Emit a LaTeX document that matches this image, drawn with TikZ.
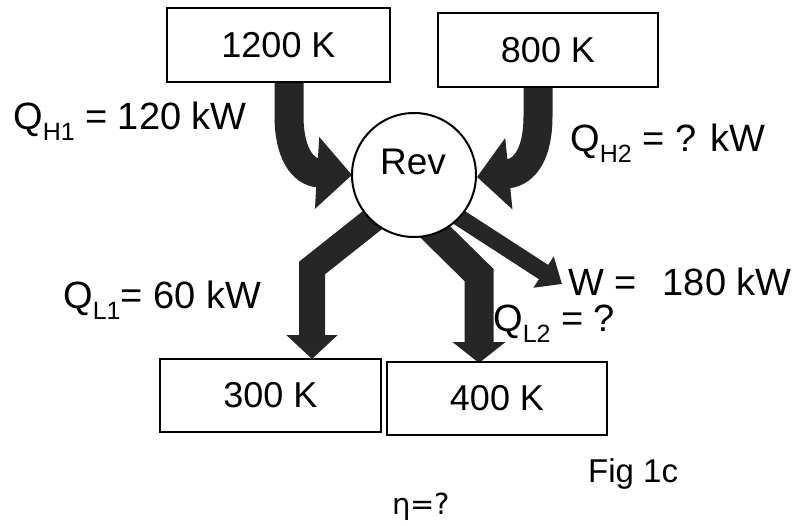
\documentclass[tikz,border=0pt]{standalone}
\usepackage{fontspec}
\setmainfont{Liberation Sans}
\newfontfamily\djv{DejaVu Sans}
\usetikzlibrary{arrows.meta}
\newcommand\qsub[1]{\raisebox{-11pt}{\fontsize{25pt}{25pt}\selectfont #1}}
\tikzset{
  tbox/.style={draw=black, line width=1.5pt, fill=white, inner sep=0pt,
    minimum width=#1, minimum height=74pt, font=\fontsize{36pt}{40pt}\selectfont},
  heat/.style={draw=black!85, line width=#1, line join=miter},
  lbl/.style={inner sep=0pt, anchor=base west, font=\fontsize{38pt}{42pt}\selectfont},
}
\begin{document}
\begin{tikzpicture}[x=1pt,y=-1pt]
\useasboundingbox (0,0) rectangle (799,526);
% arrows
\draw[heat=29pt, -{Triangle[width=70pt,length=35pt]}] (289,70) -- (289,116) .. controls (289,152) and (302,172) .. (352,175);
\draw[heat=29pt, -{Triangle[width=70pt,length=32pt]}] (538,75) -- (538,116) .. controls (538,152) and (526,172) .. (477,177);
\draw[heat=26pt, -{Triangle[width=50pt,length=24pt]}] (394,203) -- (312,268) -- (312,359);
\draw[heat=29pt, -{Triangle[width=52pt,length=21pt]}] (413,210) -- (479,275) -- (479,363);
\draw[heat=17pt, -{Triangle[width=36pt,length=22pt]}] (440,205) -- (562,284);
% engine
\node[draw=black, line width=2pt, fill=white, circle, minimum size=124pt, inner sep=0pt] (rev) at (414,175) {};
\node[inner sep=0pt, font=\fontsize{37pt}{40pt}\selectfont] (revtxt) at (413,162) {Rev};
% reservoirs
\node[tbox=223pt] (h1) at (278.5,45) {1200 K};
\node[tbox=220pt] (h2) at (548,50) {800 K};
\node[tbox=221pt, minimum height=73pt] (l1) at (270.5,395.5) {300 K};
\node[tbox=220pt, minimum height=73pt] (l2) at (497,398.5) {400 K};
% labels
\node[lbl] (qh1) at (13,130) {Q\qsub{H1} = 120 kW};
\node[lbl] (qh2) at (570,152) {Q\qsub{H2} = ? kW};
\node[lbl] (ql1) at (63,308) {Q\qsub{L1}= 60 kW};
\node[lbl] (w) at (568,295) {W =\hspace{26pt}180 kW};
\node[lbl] (ql2) at (493,331) {Q\qsub{L2} = ?};
\node[inner sep=0pt, anchor=base west, font=\fontsize{33pt}{34pt}\selectfont] (fig) at (588,482) {Fig 1c};
\node[inner sep=0pt, anchor=base west, font=\djv\fontsize{29pt}{30pt}\selectfont] (eta) at (392,514) {η=?};
\end{tikzpicture}
\end{document}
